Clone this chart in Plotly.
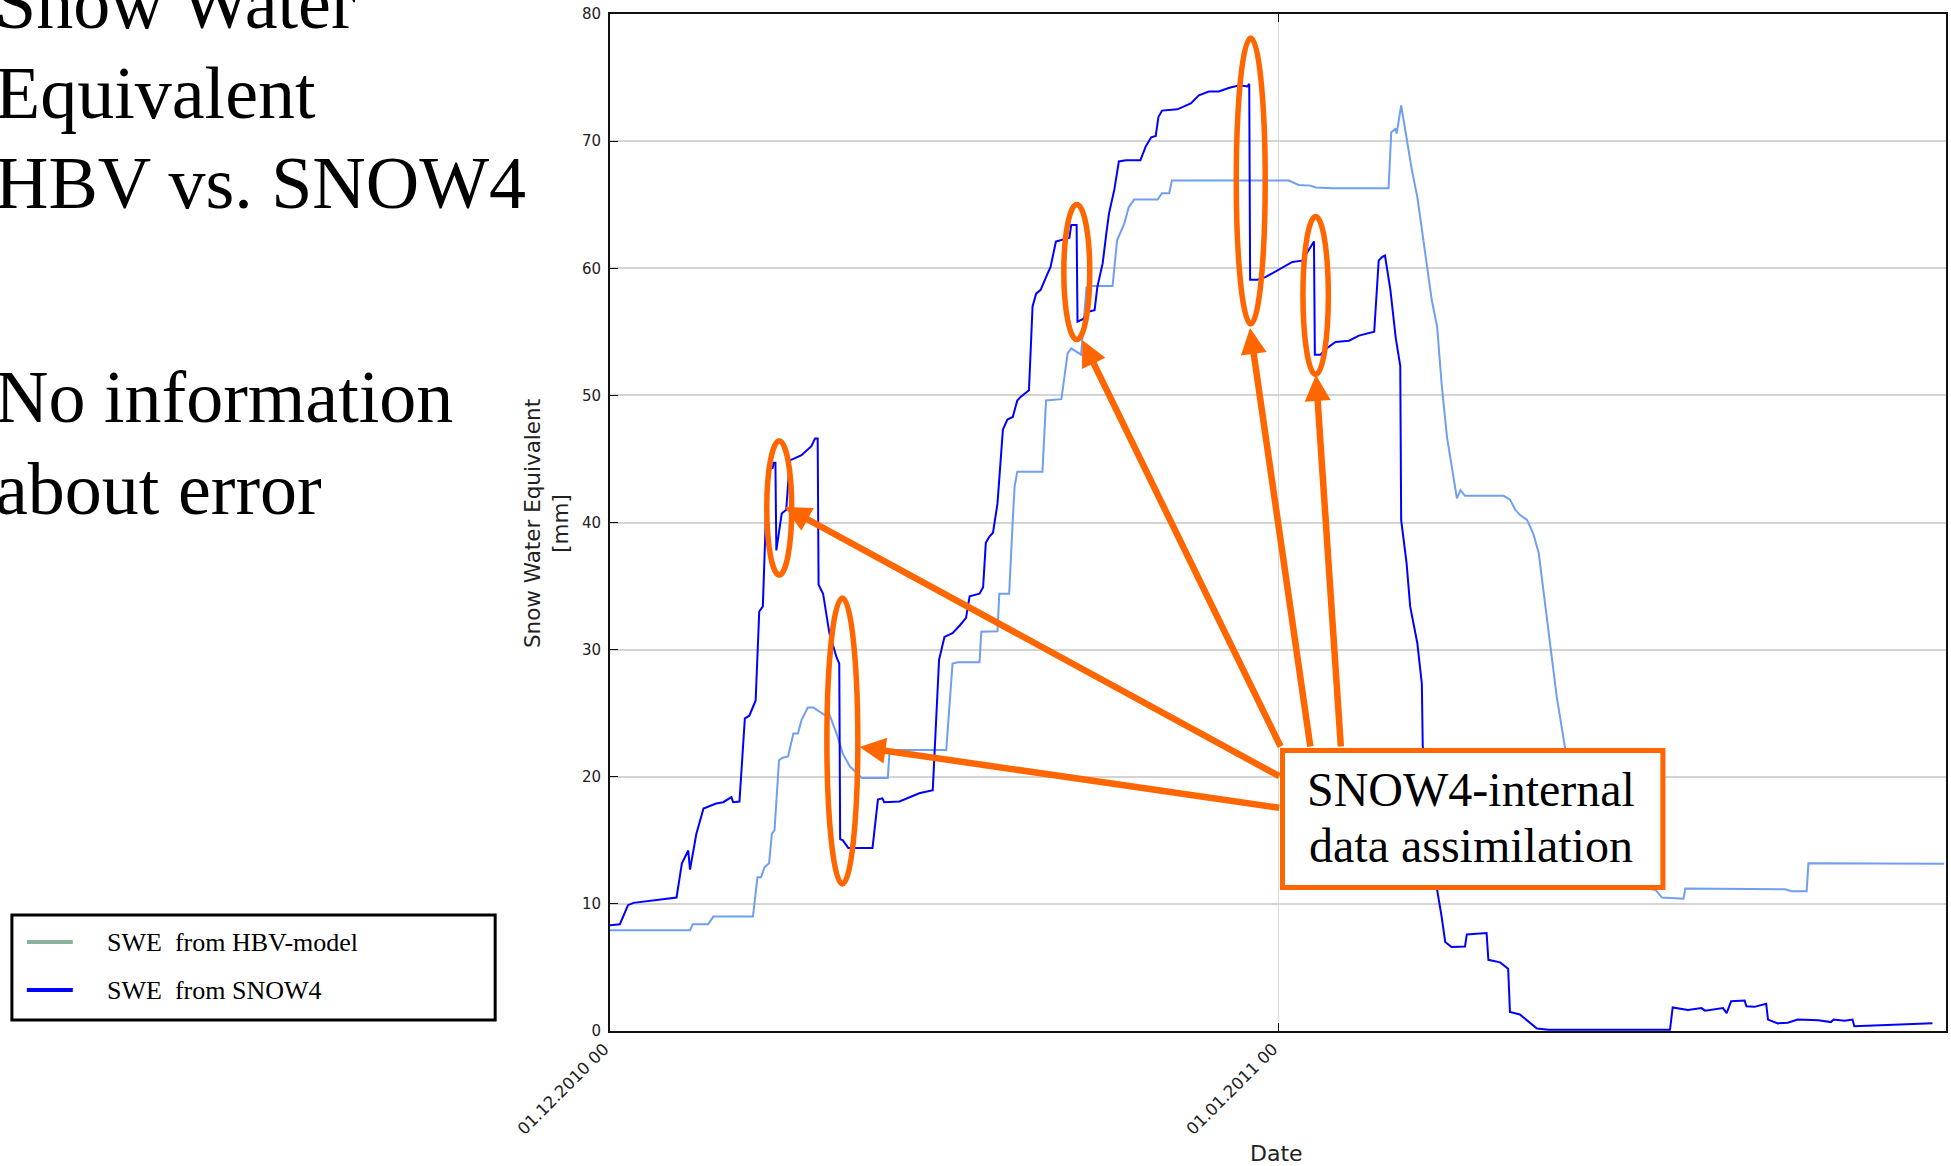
import pandas as pd
import plotly.graph_objects as go

# ---------------------------------------------------------------------------
# Snow water equivalent, hourly, starting 01.12.2010 00:00
# (x values are hours since the start of the period)
# ---------------------------------------------------------------------------
START = pd.Timestamp("2010-12-01 00:00")
END_HOURS = 1486

hbv_hours = [0, 89, 92, 109, 115, 159, 164, 168, 172, 177, 180, 183, 188, 192,
             198, 204, 209, 213, 220, 226, 239, 244, 252, 259, 267, 274, 280,
             309, 311, 374, 381, 387, 411, 413, 431, 433, 444, 448, 450, 453,
             481, 485, 502, 504, 509, 513, 524, 530, 535, 559, 564, 572, 577,
             583, 609, 614, 622, 625, 744, 755, 766, 779, 785, 803, 866, 869,
             874, 875, 880, 886, 892, 898, 907, 914, 920, 925, 931, 936, 942,
             946, 951, 994, 1001, 1007, 1012, 1020, 1027, 1033, 1040, 1046,
             1053, 1062, 1089, 1163, 1170, 1194, 1196, 1307, 1314, 1331, 1333,
             1484]
hbv_swe = [7.93, 7.93, 8.4, 8.4, 9.0, 9.0, 12.1, 12.1, 12.9, 13.2, 15.5, 15.8,
           21.3, 21.5, 21.6, 23.4, 23.4, 24.45, 25.45, 25.45, 24.85, 24.9,
           23.4, 21.8, 20.8, 20.3, 19.9, 19.9, 22.1, 22.1, 28.9, 29.0, 29.0,
           31.4, 31.45, 34.4, 34.4, 40.2, 42.8, 44.0, 44.0, 49.6, 49.7, 50.7,
           53.3, 53.7, 53.2, 58.5, 58.6, 58.6, 62.2, 63.5, 64.8, 65.4, 65.4,
           65.9, 65.9, 66.9, 66.9, 66.9, 66.55, 66.5, 66.35, 66.3, 66.3, 70.7,
           71.0, 70.6, 72.8, 70.1, 67.7, 65.6, 60.9, 57.5, 55.4, 50.9, 46.7,
           44.4, 41.9, 42.55, 42.1, 42.1, 41.8, 41.0, 40.6, 40.2, 39.1, 37.6,
           33.6, 30.0, 26.3, 22.4, 12.0, 11.1, 10.5, 10.4, 11.2, 11.15, 11.0,
           11.0, 13.2, 13.15]

snow4_hours = [0, 11, 20, 26, 74, 80, 87, 89, 96, 104, 118, 126, 135, 137, 144,
               150, 155, 162, 166, 170, 174, 178, 181, 182, 184, 185, 191, 196,
               200, 204, 213, 224, 228, 231, 232, 237, 244, 252, 255, 256, 259,
               265, 292, 298, 303, 305, 322, 344, 359, 363, 366, 372, 381, 389,
               396, 400, 411, 415, 418, 422, 426, 431, 437, 442, 448, 453, 457,
               466, 470, 474, 479, 485, 490, 496, 511, 513, 519, 520, 526, 533,
               539, 542, 548, 552, 555, 561, 566, 574, 590, 596, 602, 607, 610,
               614, 631, 646, 655, 666, 677, 689, 700, 709, 711, 712, 720, 729,
               744, 755, 759, 770, 779, 783, 784, 790, 799, 807, 822, 833, 850,
               855, 859, 862, 868, 874, 879, 880, 886, 890, 898, 903, 904, 920,
               925, 929, 936, 951, 953, 975, 977, 990, 999, 1001, 1012, 1022,
               1031, 1044, 1179, 1182, 1192, 1199, 1214, 1218, 1238, 1242, 1247,
               1262, 1264, 1273, 1286, 1288, 1299, 1310, 1321, 1344, 1358, 1361,
               1373, 1382, 1384, 1471]
snow4_swe = [8.32, 8.4, 9.9, 10.08, 10.5, 13.2, 14.2, 12.7, 15.5, 17.5, 17.9,
             18.0, 18.4, 18.0, 18.05, 24.6, 24.8, 26.0, 33.0, 33.4, 41.8, 44.2,
             44.3, 44.7, 44.7, 37.8, 40.7, 41.0, 44.9, 45.0, 45.3, 46.0, 46.6,
             46.6, 35.1, 34.4, 31.3, 29.4, 28.9, 15.1, 15.0, 14.4, 14.4, 18.2,
             18.3, 18.0, 18.05, 18.7, 18.95, 25.5, 29.2, 31.0, 31.3, 31.9, 32.5,
             34.2, 34.4, 34.9, 38.4, 38.9, 39.2, 41.5, 47.3, 48.1, 48.3, 49.6,
             49.9, 50.4, 57.0, 58.0, 58.3, 59.3, 60.1, 62.1, 62.4, 63.4, 63.4,
             55.8, 56.0, 56.6, 56.7, 58.5, 60.4, 62.7, 64.3, 66.2, 68.4, 68.5,
             68.5, 69.6, 70.3, 70.4, 71.9, 72.4, 72.5, 72.96, 73.6, 73.9, 73.9,
             74.2, 74.4, 74.3, 74.5, 59.1, 59.1, 59.3, 59.9, 60.3, 60.5, 60.6,
             61.7, 62.1, 53.2, 53.2, 53.8, 54.2, 54.3, 54.7, 55.0, 60.6, 60.9,
             61.0, 58.3, 54.5, 52.3, 40.2, 36.8, 33.4, 30.5, 27.3, 22.4, 11.1,
             9.0, 7.0, 6.6, 6.65, 7.6, 7.7, 5.6, 5.4, 4.9, 1.5, 1.3, 0.7, 0.2,
             0.1, 0.1, 1.85, 1.7, 1.65, 1.8, 1.6, 1.8, 1.4, 2.35, 2.4, 1.95,
             1.9, 2.15, 0.9, 0.6, 0.65, 0.9, 0.85, 0.7, 0.9, 0.8, 0.9, 0.38,
             0.6]

x_tick_dates = ["2010-12-01 00:00", "2011-01-01 00:00"]
x_tick_labels = ["01.12.2010 00", "01.01.2011 00"]
y_ticks = [0, 10, 20, 30, 40, 50, 60, 70, 80]

legend_labels = ["SWE\u00a0 from HBV-model", "SWE\u00a0 from SNOW4"]
slide_lines = ["Snow Water", "Equivalent", "HBV vs. SNOW4",
               "No information", "about error"]
callout_lines = ["SNOW4-internal", "data assimilation"]

assert len(hbv_hours) == len(hbv_swe)
assert len(snow4_hours) == len(snow4_swe)


def to_time(hours):
    return START + pd.to_timedelta(hours, unit="h")


# ---------------------------------------------------------------------------
# Page geometry (pixels) and helpers for placing decorations
# ---------------------------------------------------------------------------
W, H = 1951, 1166
PLOT_L, PLOT_R, PLOT_T, PLOT_B = 610, 1948, 14, 1031


def fx(px):
    return (px - PLOT_L) / (PLOT_R - PLOT_L)


def fy(py):
    return (PLOT_B - py) / (PLOT_B - PLOT_T)


ORANGE = "#ff6600"
HBV_COLOR = "#6f9ef2"
SNOW4_COLOR = "#0000ff"
HBV_KEY_COLOR = "#8ab39b"
SANS = "DejaVu Sans"
SERIF = "Liberation Serif"

fig = go.Figure()
fig.add_trace(go.Scatter(x=to_time(hbv_hours), y=hbv_swe, mode="lines",
                         line=dict(color=HBV_COLOR, width=2),
                         name=legend_labels[0], showlegend=False))
fig.add_trace(go.Scatter(x=to_time(snow4_hours), y=snow4_swe, mode="lines",
                         line=dict(color=SNOW4_COLOR, width=2),
                         name=legend_labels[1], showlegend=False))

shapes = []
annotations = []

# Ellipses marking the assimilation jumps: (centre x, centre y, rx, ry) in px
ellipses = [(779.5, 508, 12.5, 67), (842.7, 741, 15.5, 143),
            (1077.5, 272, 13, 67.5), (1251.7, 181, 14.5, 143),
            (1316.7, 295.5, 12.7, 79)]
for cx, cy, rx, ry in ellipses:
    shapes.append(dict(type="circle", xref="paper", yref="paper",
                       x0=fx(cx - rx), x1=fx(cx + rx),
                       y0=fy(cy + ry), y1=fy(cy - ry),
                       line=dict(color=ORANGE, width=5.5), layer="above"))

# Callout box
shapes.append(dict(type="rect", xref="paper", yref="paper",
                   x0=fx(1283.5), x1=fx(1664.5), y0=fy(887.5), y1=fy(750.5),
                   line=dict(color=ORANGE, width=5), fillcolor="white",
                   layer="above"))
for text, cy in zip(callout_lines, [789, 845]):
    annotations.append(dict(text=text, xref="paper", yref="paper",
                            x=fx(1472), y=fy(cy), xanchor="center",
                            yanchor="middle", showarrow=False,
                            font=dict(family=SERIF, size=48, color="black")))

# Arrows from the callout box to the ellipses: (tail x, tail y, tip x, tip y)
arrows = [(1281, 777, 785, 507), (1281, 808, 860, 747),
          (1282, 748, 1083, 340), (1311.5, 748, 1251, 328),
          (1342, 748, 1317, 375)]
for tx, ty, hx, hy in arrows:
    annotations.append(dict(text="", xref="paper", yref="paper",
                            x=fx(hx), y=fy(hy), ax=tx - hx, ay=ty - hy,
                            showarrow=True, arrowhead=2, arrowsize=0.8,
                            arrowwidth=6.5, arrowcolor=ORANGE, standoff=0))

# Hand-drawn legend box
shapes.append(dict(type="rect", xref="paper", yref="paper",
                   x0=fx(11), x1=fx(495), y0=fy(1020), y1=fy(915),
                   line=dict(color="black", width=3), fillcolor="white"))
for color, ly in [(HBV_KEY_COLOR, 942), (SNOW4_COLOR, 990)]:
    shapes.append(dict(type="line", xref="paper", yref="paper",
                       x0=fx(26), x1=fx(72), y0=fy(ly), y1=fy(ly),
                       line=dict(color=color, width=4)))
for text, ly in zip(legend_labels, [942, 990]):
    annotations.append(dict(text=text, xref="paper", yref="paper",
                            x=fx(104), y=fy(ly), xanchor="left",
                            yanchor="middle", showarrow=False,
                            font=dict(family=SERIF, size=26, color="black")))

# Slide text on the left (runs off the page edge, as on the slide)
for text, cy in zip(slide_lines, [3, 93, 183, 397, 489]):
    annotations.append(dict(text=text, xref="paper", yref="paper",
                            x=fx(-8), y=fy(cy), xanchor="left",
                            yanchor="middle", showarrow=False,
                            font=dict(family=SERIF, size=74, color="black")))

# Axis titles
annotations.append(dict(text="Snow Water Equivalent<br>[mm]", xref="paper",
                        yref="paper", x=fx(546), y=fy(524), textangle=-90,
                        xanchor="center", yanchor="middle", showarrow=False,
                        font=dict(family=SANS, size=21.5, color="#222")))
annotations.append(dict(text="Date", xref="paper", yref="paper",
                        x=fx(1277), y=fy(1153), xanchor="center",
                        yanchor="middle", showarrow=False,
                        font=dict(family=SANS, size=22, color="#222")))

fig.update_layout(
    width=W, height=H, autosize=False,
    margin=dict(l=PLOT_L, r=W - PLOT_R, t=PLOT_T, b=H - PLOT_B, pad=0),
    paper_bgcolor="white", plot_bgcolor="white",
    showlegend=False,
    shapes=shapes, annotations=annotations,
)
fig.update_xaxes(
    type="date", range=[START, to_time(END_HOURS)],
    tickvals=x_tick_dates, ticktext=x_tick_labels, tickangle=-45,
    tickfont=dict(family=SANS, size=16.5, color="#222"),
    ticklabelshift=-6,
    showgrid=True, gridcolor="#dadada", gridwidth=1,
    showline=True, linecolor="#111", linewidth=2, mirror="ticks",
    ticks="inside", ticklen=8, tickcolor="#111", zeroline=False,
)
fig.update_yaxes(
    range=[0, 80], tickvals=y_ticks,
    tickfont=dict(family=SANS, size=15, color="#222"),
    showgrid=True, gridcolor="#d4d4d4", gridwidth=1.5,
    showline=True, linecolor="#111", linewidth=2, mirror=True,
    ticks="inside", ticklen=8, tickcolor="#111", zeroline=False,
    ticklabelstandoff=4,
)

fig.write_html("out.html")
